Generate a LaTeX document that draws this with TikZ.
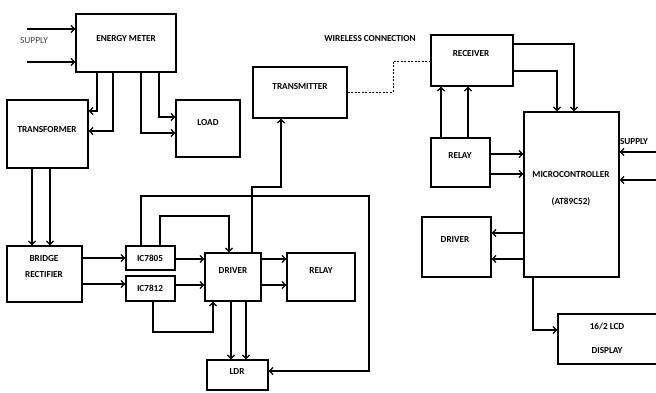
\documentclass[tikz,border=0pt]{standalone}
\usepackage{fontspec}
\setmainfont{Carlito}
\usetikzlibrary{arrows.meta,fit,calc}
\begin{document}
\begin{tikzpicture}[x=1pt,y=-1pt,
 blk/.style={draw,line width=1.4pt,inner sep=0pt,fill=white},
 lbl/.style={font=\bfseries\fontsize{9.2}{11}\selectfont,inner sep=0pt},
 plain/.style={font=\fontsize{9.4}{11}\selectfont,inner sep=0pt,text=black!75},
 arr/.style={line width=1.4pt,-{Straight Barb[length=3.5pt,width=7pt,line width=1.2pt]}},
 wl/.style={dashed,line width=0.6pt,dash pattern=on 2pt off 1.5pt}]
\useasboundingbox (0,0) rectangle (656,392);
% blocks
\node[blk,fit={(76,14) (176,72)}] (em) {};
\node[blk,fit={(7,100) (88,168)}] (tr) {};
\node[blk,fit={(176,100) (240,157)}] (load) {};
\node[blk,fit={(7,246) (82,302)}] (br) {};
\node[blk,fit={(126,246) (175,270)}] (ic5) {};
\node[blk,fit={(126,276) (175,301)}] (ic12) {};
\node[blk,fit={(205,253) (261,301)}] (drv) {};
\node[blk,fit={(287,253) (355,301)}] (rly) {};
\node[blk,fit={(207,360) (268,390)}] (ldr) {};
\node[blk,fit={(253,67) (347,118)}] (tx) {};
\node[blk,fit={(431,35) (513,86)}] (rx) {};
\node[blk,fit={(431,138) (490,187)}] (rlyb) {};
\node[blk,fit={(524,112) (619,277)}] (mcu) {};
\node[blk,fit={(422,217) (491,277)}] (drvb) {};
\node[blk,fit={(558,314) (660,364)}] (lcd) {};
% texts
\node[lbl] (tem) at (126,39) {ENERGY METER};
\node[lbl] (ttr) at (47,130) {TRANSFORMER};
\node[lbl] (tload) at (208,123) {LOAD};
\node[lbl] (tbr1) at (44,259) {BRIDGE};
\node[lbl] (tbr2) at (44,275) {RECTIFIER};
\node[lbl] (tic5) at (150,258) {IC7805};
\node[lbl] (tic12) at (150,288) {IC7812};
\node[lbl] (tdrv) at (233,271) {DRIVER};
\node[lbl] (trly) at (321,271) {RELAY};
\node[lbl] (tldr) at (237,372) {LDR};
\node[lbl] (ttx) at (300,87) {TRANSMITTER};
\node[lbl] (trx) at (471,54) {RECEIVER};
\node[lbl] (trlyb) at (460,156) {RELAY};
\node[lbl] (tmcu1) at (571,175) {MICROCONTROLLER};
\node[lbl] (tmcu2) at (571,202) {(AT89C52)};
\node[lbl] (tdrvb) at (455,240) {DRIVER};
\node[lbl] (tlcd1) at (607,326) {16/2 LCD};
\node[lbl] (tlcd2) at (607,351) {DISPLAY};
\node[plain] (tsup1) at (34,40) {SUPPLY};
\node[lbl] (tsup2) at (634,142) {SUPPLY};
\node[lbl] (twl) at (370,39) {WIRELESS CONNECTION};
% free ends
\coordinate (s1) at (27,29);
\coordinate (s2) at (27,62);
\coordinate (s3) at (657,152);
\coordinate (s4) at (657,180);
% connectors
\draw[arr] (s1) -- (em.west |- s1);
\draw[arr] (s2) -- (em.west |- s2);
\draw[arr] (em.south -| 97,0) |- (tr.east |- 0,111);
\draw[arr] (em.south -| 113,0) |- (tr.east |- 0,131);
\draw[arr] (em.south -| 159,0) |- (load.west |- 0,117);
\draw[arr] (em.south -| 141,0) |- (load.west |- 0,133);
\draw[arr] (tr.south -| 32,0) -- (br.north -| 32,0);
\draw[arr] (tr.south -| 50,0) -- (br.north -| 50,0);
\draw[arr] (br.east |- 0,258) -- (ic5.west |- 0,258);
\draw[arr] (br.east |- 0,284) -- (ic12.west |- 0,284);
\draw[arr] (ic5.east |- 0,259) -- (drv.west |- 0,259);
\draw[arr] (ic12.east |- 0,285) -- (drv.west |- 0,285);
\draw[arr] (ic5.north -| 160,0) |- (229,216) -- (drv.north -| 229,0);
\draw[arr] (ic5.north -| 141,0) |- (369,196) |- (ldr.east |- 0,371);
\draw[arr] (ic12.south -| 153,0) |- (213,332) -- (drv.south -| 213,0);
\draw[arr] (drv.north -| 252,0) |- (281,187) -- (tx.south -| 281,0);
\draw[arr] (drv.south -| 231,0) -- (ldr.north -| 231,0);
\draw[arr] (drv.south -| 246,0) -- (ldr.north -| 246,0);
\draw[arr] (drv.east |- 0,259) -- (rly.west |- 0,259);
\draw[arr] (drv.east |- 0,285) -- (rly.west |- 0,285);
\draw[wl] (tx.east |- 0,92) -| (393,61) -- (rx.west |- 0,61);
\draw[arr] (rx.east |- 0,44) -| (mcu.north -| 574,0);
\draw[arr] (rx.east |- 0,71) -| (mcu.north -| 557,0);
\draw[arr] (rlyb.north -| 441,0) -- (rx.south -| 441,0);
\draw[arr] (rlyb.north -| 468,0) -- (rx.south -| 468,0);
\draw[arr] (rlyb.east |- 0,154) -- (mcu.west |- 0,154);
\draw[arr] (rlyb.east |- 0,174) -- (mcu.west |- 0,174);
\draw[arr] (s3) -- (mcu.east |- s3);
\draw[arr] (s4) -- (mcu.east |- s4);
\draw[arr] (mcu.west |- 0,233) -- (drvb.east |- 0,233);
\draw[arr] (mcu.west |- 0,259) -- (drvb.east |- 0,259);
\draw[arr] (mcu.south -| 533,0) |- (lcd.west |- 0,330);
\end{tikzpicture}
\end{document}
